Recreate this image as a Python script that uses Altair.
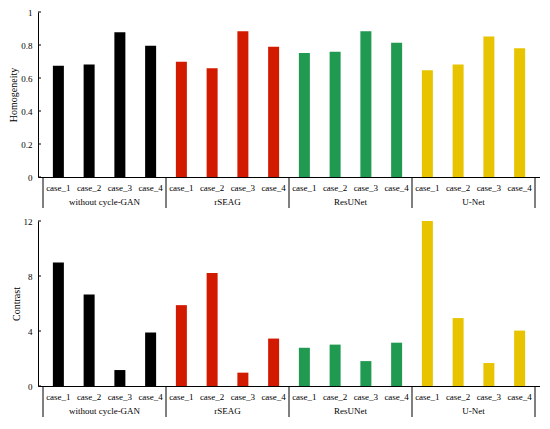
import altair as alt
import pandas as pd

groups = ["without cycle-GAN", "rSEAG", "ResUNet", "U-Net"]
cases = ["case_1", "case_2", "case_3", "case_4"]
colors = ["#000000", "#d21a00", "#1f9a50", "#e8c400"]

homogeneity = [
    [0.674, 0.682, 0.878, 0.795],
    [0.698, 0.659, 0.884, 0.790],
    [0.752, 0.759, 0.884, 0.814],
    [0.647, 0.682, 0.851, 0.781],
]
contrast = [
    [8.99, 6.65, 1.16, 3.89],
    [5.88, 8.22, 0.97, 3.45],
    [2.78, 3.01, 1.81, 3.15],
    [12.0, 4.94, 1.67, 4.03],
]

homog_ticks = [0, 0.2, 0.4, 0.6, 0.8, 1]
contrast_ticks = [0, 4, 8, 12]

W = 502
H = 165
FONT = "Liberation Serif"


def build(values, title, ydomain, ticks):
    rows = []
    for g, grp in enumerate(groups):
        for c, cs in enumerate(cases):
            rows.append({"idx": g * 4 + c, "group": grp, "case": cs, "value": values[g][c]})
    df = pd.DataFrame(rows)
    grp_df = pd.DataFrame({"group": groups, "center": [g * 4 + 1.5 for g in range(len(groups))]})
    sep_df = pd.DataFrame({"pos": [g * 4 - 0.5 for g in range(len(groups) + 1)]})
    tick_df = pd.DataFrame({"t": ticks})

    xscale = alt.Scale(domain=[-0.5, 15.5], nice=False, zero=False)
    yscale = alt.Scale(domain=ydomain, nice=False)
    xaxis = alt.Axis(labels=False, ticks=False, grid=False, title=None,
                     domainColor="black", domainWidth=1)
    yaxis = alt.Axis(values=ticks, format="~g", title=title, grid=False,
                     ticks=False, labelPadding=6, titlePadding=2,
                     labelOverlap=False, labelBound=False,
                     domainColor="black", domainWidth=1,
                     labelFont=FONT, labelFontSize=9, labelColor="black",
                     titleFont=FONT, titleFontSize=10, titleFontWeight="normal",
                     titleColor="black")

    bars = alt.Chart(df).mark_bar(size=11).encode(
        x=alt.X("idx:Q", scale=xscale, axis=xaxis),
        y=alt.Y("value:Q", scale=yscale, axis=yaxis),
        color=alt.Color("group:N", scale=alt.Scale(domain=groups, range=colors), legend=None),
    )

    inner_ticks = alt.Chart(tick_df).mark_rule(color="black", strokeWidth=1).encode(
        y=alt.Y("t:Q", scale=yscale, axis=yaxis),
        x=alt.value(0),
        x2=alt.value(3),
    )

    case_text = alt.Chart(df).mark_text(font=FONT, fontSize=9, color="black").encode(
        x=alt.X("idx:Q", scale=xscale, axis=xaxis),
        y=alt.value(H + 11),
        text="case:N",
    )

    group_text = alt.Chart(grp_df).mark_text(font=FONT, fontSize=9, color="black").encode(
        x=alt.X("center:Q", scale=xscale, axis=xaxis),
        y=alt.value(H + 25),
        text="group:N",
    )

    seps = alt.Chart(sep_df).mark_rule(color="black", strokeWidth=1).encode(
        x=alt.X("pos:Q", scale=xscale, axis=xaxis),
        y=alt.value(H),
        y2=alt.value(H + 31),
    )

    return alt.layer(bars, inner_ticks, case_text, group_text, seps).properties(width=W, height=H)


top = build(homogeneity, "Homogeneity", [0, 1], homog_ticks)
bottom = build(contrast, "Contrast", [0, 12], contrast_ticks)

chart = alt.vconcat(top, bottom, spacing=8).properties(
    padding={"left": 0, "top": 0, "right": 0, "bottom": 0},
    background="white",
).configure_view(stroke=None)

chart.save("out.html", embed_options={"renderer": "svg", "actions": False})
